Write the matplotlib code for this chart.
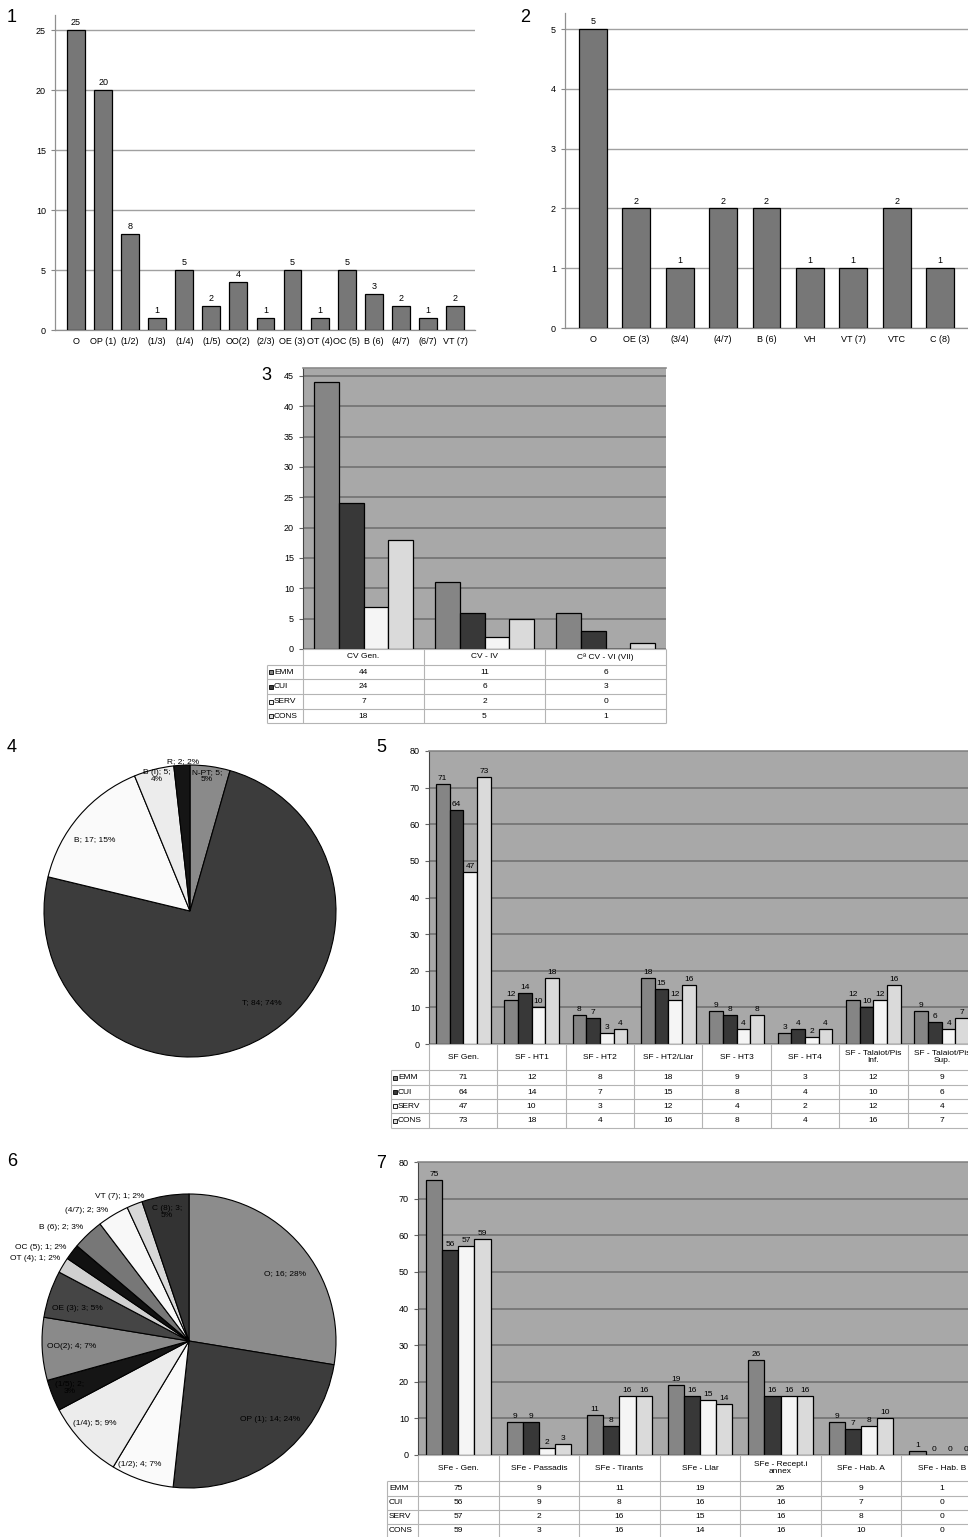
import numpy as np
import matplotlib
matplotlib.use('Agg')
import matplotlib.pyplot as plt

plt.rcParams['font.family'] = ['Liberation Sans', 'DejaVu Sans']

# ---------------- data ----------------
p1_cats = ['O', 'OP (1)', '(1/2)', '(1/3)', '(1/4)', '(1/5)', 'OO(2)', '(2/3)',
           'OE (3)', 'OT (4)', 'OC (5)', 'B (6)', '(4/7)', '(6/7)', 'VT (7)']
p1_vals = [25, 20, 8, 1, 5, 2, 4, 1, 5, 1, 5, 3, 2, 1, 2]

p2_cats = ['O', 'OE (3)', '(3/4)', '(4/7)', 'B (6)', 'VH', 'VT (7)', 'VTC', 'C (8)']
p2_vals = [5, 2, 1, 2, 2, 1, 1, 2, 1]

series_names = ['EMM', 'CUI', 'SERV', 'CONS']

p3_cats = ['CV Gen.', 'CV - IV', 'Cª CV - VI (VII)']
p3_emm = [44, 11, 6]
p3_cui = [24, 6, 3]
p3_serv = [7, 2, 0]
p3_cons = [18, 5, 1]

p4_labels = ['N-PT; 5;\n5%', 'T; 84; 74%', 'B; 17; 15%', 'B (I); 5;\n4%', 'R; 2; 2%']
p4_vals = [5, 84, 17, 5, 2]

p5_cats = ['SF Gen.', 'SF - HT1', 'SF - HT2', 'SF - HT2/Llar', 'SF - HT3', 'SF - HT4',
           'SF - Talaiot/Pis\nInf.', 'SF - Talaiot/Pis\nSup.']
p5_emm = [71, 12, 8, 18, 9, 3, 12, 9]
p5_cui = [64, 14, 7, 15, 8, 4, 10, 6]
p5_serv = [47, 10, 3, 12, 4, 2, 12, 4]
p5_cons = [73, 18, 4, 16, 8, 4, 16, 7]

p6_labels = ['O; 16; 28%', 'OP (1); 14; 24%', '(1/2); 4; 7%', '(1/4); 5; 9%', '(1/5); 2;\n3%',
             'OO(2); 4; 7%', 'OE (3); 3; 5%', 'OT (4); 1; 2%', 'OC (5); 1; 2%', 'B (6); 2; 3%',
             '(4/7); 2; 3%', 'VT (7); 1; 2%', 'C (8); 3;\n5%']
p6_vals = [16, 14, 4, 5, 2, 4, 3, 1, 1, 2, 2, 1, 3]

p7_cats = ['SFe - Gen.', 'SFe - Passadis', 'SFe - Tirants', 'SFe - Llar',
           'SFe - Recept.i\nannex', 'SFe - Hab. A', 'SFe - Hab. B']
p7_emm = [75, 9, 11, 19, 26, 9, 1]
p7_cui = [56, 9, 8, 16, 16, 7, 0]
p7_serv = [57, 2, 16, 15, 16, 8, 0]
p7_cons = [59, 3, 16, 14, 16, 10, 0]

# ---------------- styles ----------------
W, H = 968, 1537
fig = plt.figure(figsize=(W / 100, H / 100), dpi=100)
fig.patch.set_facecolor('white')


def rect(l, t, r, b):
    return [l / W, 1 - b / H, (r - l) / W, (b - t) / H]


series_colors = ['#858585', '#383838', '#f5f5f5', '#dadada']
BG = '#a8a8a8'
FS = 6.5


def simple_bars(ax, cats, vals, xlim, ylim, yticks, width):
    x = np.arange(len(cats))
    bars = ax.bar(x, vals, width, color='#777777', edgecolor='black', lw=0.9, zorder=3)
    ax.bar_label(bars, padding=2, fontsize=FS)
    ax.set_xlim(*xlim)
    ax.set_ylim(*ylim)
    ax.set_xticks(x, cats, fontsize=FS)
    ax.tick_params(axis='x', length=0, pad=5)
    ax.set_yticks(yticks)
    ax.tick_params(axis='y', labelsize=FS, length=3, color='#888888', width=0.8)
    ax.yaxis.grid(True, color='#a0a0a0', lw=1.0)
    ax.set_axisbelow(True)
    for s in ['top', 'right']:
        ax.spines[s].set_visible(False)
    for s in ['left', 'bottom']:
        ax.spines[s].set_color('#909090')
        ax.spines[s].set_linewidth(0.9)


def grouped(ax, tax, cats, data, ylim, yticks, rows_px, label_px, col_px, keys=True,
            w=0.2, values=True):
    n = len(cats)
    x = np.arange(n)
    for i, vals in enumerate(data):
        b = ax.bar(x + (i - 1.5) * w, vals, w, color=series_colors[i], edgecolor='black',
                   lw=0.9, zorder=3)
        if values:
            ax.bar_label(b, padding=1.5, fontsize=6)
    ax.set_facecolor(BG)
    ax.set_xlim(-0.5, n - 0.5)
    ax.set_ylim(*ylim)
    ax.set_xticks([])
    ax.set_yticks(yticks)
    ax.tick_params(axis='y', labelsize=FS, length=3, width=0.8, color='#666666')
    ax.yaxis.grid(True, color='#767676', lw=1.3)
    ax.set_axisbelow(True)
    ax.spines['bottom'].set_visible(False)
    ax.spines['right'].set_visible(False)
    ax.spines['left'].set_color('#444444')
    ax.spines['top'].set_color('#8a8a8a')
    ax.spines['top'].set_linewidth(1.2)

    lu = label_px / col_px
    x0 = -0.5 - lu
    tax.set_xlim(x0, n - 0.5)
    tax.set_ylim(rows_px[-1], rows_px[0])
    tax.axis('off')
    lc = '#b4b4b4'
    tax.hlines(rows_px[0], -0.5, n - 0.5, color=lc, lw=0.8, clip_on=False)
    for yy in rows_px[1:]:
        tax.hlines(yy, x0, n - 0.5, color=lc, lw=0.8, clip_on=False)
    for k in range(n + 1):
        tax.vlines(-0.5 + k, rows_px[0], rows_px[-1], color=lc, lw=0.8, clip_on=False)
    tax.vlines(x0, rows_px[1], rows_px[-1], color=lc, lw=0.8, clip_on=False)
    hy = (rows_px[0] + rows_px[1]) / 2
    for k, c in enumerate(cats):
        tax.text(k, hy, c, ha='center', va='center', fontsize=6, linespacing=1.0)
    for i, vals in enumerate(data):
        ry = (rows_px[i + 1] + rows_px[i + 2]) / 2
        for k, v in enumerate(vals):
            tax.text(k, ry, str(v), ha='center', va='center', fontsize=6)
        if keys:
            kx = x0 + 4 / col_px
            tax.plot([kx], [ry], marker='s', ms=3.3, mfc=series_colors[i], mec='black',
                     mew=0.6, ls='none', clip_on=False)
            tax.text(kx + 3 / col_px, ry, series_names[i], ha='left', va='center', fontsize=6)
        else:
            tax.text(x0 + 2 / col_px, ry, series_names[i], ha='left', va='center', fontsize=6)


def pie_panel(ax, vals, colors, labels, label_pos):
    ax.pie(vals, colors=colors, startangle=90, counterclock=False, radius=1,
           wedgeprops=dict(edgecolor='black', linewidth=0.8))
    ax.set_xlim(-1, 1)
    ax.set_ylim(-1, 1)
    ax.set_aspect('equal')
    for lab, (lx, ly) in zip(labels, label_pos):
        ax.text(lx, ly, lab, ha='center', va='center', fontsize=6, linespacing=1.0,
                clip_on=False)


# ---------------- panel 1 ----------------
ax1 = fig.add_axes(rect(55, 15, 475, 330))
simple_bars(ax1, p1_cats, p1_vals, (-0.776, 14.74), (0, 26.25), [0, 5, 10, 15, 20, 25], 0.66)

# ---------------- panel 2 ----------------
ax2 = fig.add_axes(rect(565, 13, 968, 328))
simple_bars(ax2, p2_cats, p2_vals, (-0.645, 8.645), (0, 5.27), [0, 1, 2, 3, 4, 5], 0.645)

# ---------------- panel 3 ----------------
ax3 = fig.add_axes(rect(303, 368, 666, 649))
tax3 = fig.add_axes(rect(267, 649, 666, 723))
grouped(ax3, tax3, p3_cats, [p3_emm, p3_cui, p3_serv, p3_cons], (0, 46.3),
        [0, 5, 10, 15, 20, 25, 30, 35, 40, 45], [649, 665, 679, 694, 709, 723], 36, 121,
        w=0.205, values=False)

# ---------------- panel 4 ----------------
cx4, cy4, r4 = 190, 911, 146
ax4 = fig.add_axes(rect(cx4 - r4, cy4 - r4, cx4 + r4, cy4 + r4))
p4_colors = ['#8a8a8a', '#3c3c3c', '#fafafa', '#ececec', '#151515']
p4_pos = [(0.116, 0.925), (0.493, -0.63), (-0.65, 0.486), (-0.226, 0.925), (-0.048, 1.027)]
pie_panel(ax4, p4_vals, p4_colors, p4_labels, p4_pos)

# ---------------- panel 5 ----------------
ax5 = fig.add_axes(rect(429, 751, 976, 1044))
tax5 = fig.add_axes(rect(391, 1044, 976, 1128))
grouped(ax5, tax5, p5_cats, [p5_emm, p5_cui, p5_serv, p5_cons], (0, 80),
        [0, 10, 20, 30, 40, 50, 60, 70, 80], [1044, 1070, 1085, 1099, 1113, 1128], 38, 68.4)

# ---------------- panel 6 ----------------
cx6, cy6, r6 = 189, 1341, 147
ax6 = fig.add_axes(rect(cx6 - r6, cy6 - r6, cx6 + r6, cy6 + r6))
p6_colors = ['#8c8c8c', '#3c3c3c', '#fafafa', '#ececec', '#151515', '#8a8a8a', '#454545',
             '#d0d0d0', '#111111', '#777777', '#f8f8f8', '#d8d8d8', '#333333']
p6_pos = [(0.653, 0.456), (0.551, -0.537), (-0.333, -0.837), (-0.639, -0.558), (-0.81, -0.32),
          (-0.796, -0.04), (-0.762, 0.224), (-1.048, 0.558), (-1.007, 0.639), (-0.871, 0.769),
          (-0.694, 0.891), (-0.469, 0.98), (-0.15, 0.878)]
pie_panel(ax6, p6_vals, p6_colors, p6_labels, p6_pos)

# ---------------- panel 7 ----------------
ax7 = fig.add_axes(rect(418, 1162, 982, 1455))
tax7 = fig.add_axes(rect(387, 1455, 982, 1538))
grouped(ax7, tax7, p7_cats, [p7_emm, p7_cui, p7_serv, p7_cons], (0, 80),
        [0, 10, 20, 30, 40, 50, 60, 70, 80], [1455, 1481, 1496, 1510, 1524, 1538], 31, 80.6,
        keys=False)

# ---------------- panel numbers ----------------
for num, (px, py) in zip(['1', '2', '3', '4', '5', '6', '7'],
                         [(12, 18), (525, 17), (266, 376), (12, 748), (381, 747), (12, 1161), (381, 1163)]):
    fig.text(px / W, 1 - py / H, num, fontsize=13, ha='center', va='center')

fig.savefig('out.png', dpi=100, facecolor='white')
